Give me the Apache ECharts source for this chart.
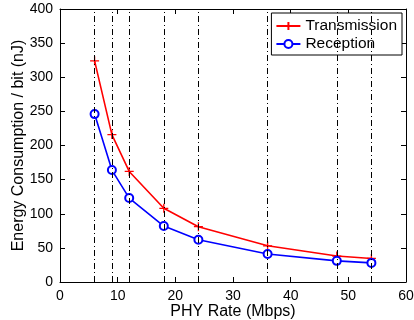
<!DOCTYPE html>
<html><head><meta charset="utf-8">
<script src="https://cdn.jsdelivr.net/npm/echarts@6/dist/echarts.min.js"></script>
<style>html,body{margin:0;padding:0;background:#fff}#c{width:414px;height:320px}</style>
</head><body><div id="c"></div>
<script>
const rates = [6, 9, 12, 18, 24, 36, 48, 54];
const transmission = [324, 216, 162, 108, 81, 53, 38, 34.5];
const reception = [246, 164, 123, 82, 62, 41, 31, 28];
const xTicks = [0, 10, 20, 30, 40, 50, 60];
const yTicks = [0, 50, 100, 150, 200, 250, 300, 350, 400];

const font = 'Liberation Sans, Arial, Helvetica, sans-serif';
const chart = echarts.init(document.getElementById('c'));
const axisCommon = {
  axisLine: {show: true, onZero: false, lineStyle: {color: '#000', width: 1}},
  axisTick: {show: true, inside: true, length: 5, lineStyle: {color: '#000'}},
  splitLine: {show: false}
};
chart.setOption({
  animation: false,
  grid: {left: 60, right: 8, top: 9, bottom: 38, containLabel: false, outerBoundsMode: 'none'},
  legend: {
    right: 12, top: 13, orient: 'vertical',
    backgroundColor: '#fff', borderColor: '#000', borderWidth: 1,
    padding: [5, 5, 3, 4], itemGap: 2, itemWidth: 24, itemHeight: 10,
    textStyle: {fontFamily: font, fontSize: 15.5, lineHeight: 16, color: '#000'},
    data: ['Transmission', 'Reception']
  },
  xAxis: [
    Object.assign({type: 'value', min: xTicks[0], max: xTicks[xTicks.length-1], interval: 10,
      position: 'bottom',
      name: 'PHY Rate (Mbps)', nameLocation: 'middle', nameGap: 22, nameMoveOverlap: false,
      nameTextStyle: {fontFamily: font, fontSize: 16, color: '#000'},
      axisLabel: {fontFamily: font, fontSize: 14, color: '#000', margin: 7}}, axisCommon),
    Object.assign({type: 'value', min: 0, max: 60, interval: 10, position: 'top',
      axisLabel: {show: false}}, axisCommon)
  ],
  yAxis: [
    Object.assign({type: 'value', min: yTicks[0], max: yTicks[yTicks.length-1], interval: 50,
      position: 'left',
      name: 'Energy Consumption / bit (nJ)', nameLocation: 'middle', nameGap: 33, nameMoveOverlap: false,
      nameTextStyle: {fontFamily: font, fontSize: 16, color: '#000'},
      axisLabel: {fontFamily: font, fontSize: 14, color: '#000', margin: 7}}, axisCommon),
    Object.assign({type: 'value', min: 0, max: 400, interval: 50, position: 'right',
      axisLabel: {show: false}}, axisCommon)
  ],
  series: [
    {
      name: 'Transmission', type: 'line', xAxisIndex: 0, yAxisIndex: 0,
      data: rates.map((r, i) => [r, transmission[i]]),
      symbol: 'path://M0,5L10,5M5,0L5,10', symbolSize: 9,
      itemStyle: {color: '#ff0000', borderColor: '#ff0000', borderWidth: 1.3},
      lineStyle: {color: '#ff0000', width: 1.6},
      markLine: {
        silent: true, symbol: 'none', label: {show: false},
        lineStyle: {color: '#000', width: 1, type: [6, 3, 1, 3]},
        data: rates.map(r => ({xAxis: r}))
      },
      z: 3
    },
    {
      name: 'Reception', type: 'line', xAxisIndex: 0, yAxisIndex: 0,
      data: rates.map((r, i) => [r, reception[i]]),
      symbol: 'emptyCircle', symbolSize: 8,
      itemStyle: {color: '#0000ff', borderColor: '#0000ff', borderWidth: 1.5},
      lineStyle: {color: '#0000ff', width: 1.6},
      z: 3
    }
  ]
});
</script></body></html>
